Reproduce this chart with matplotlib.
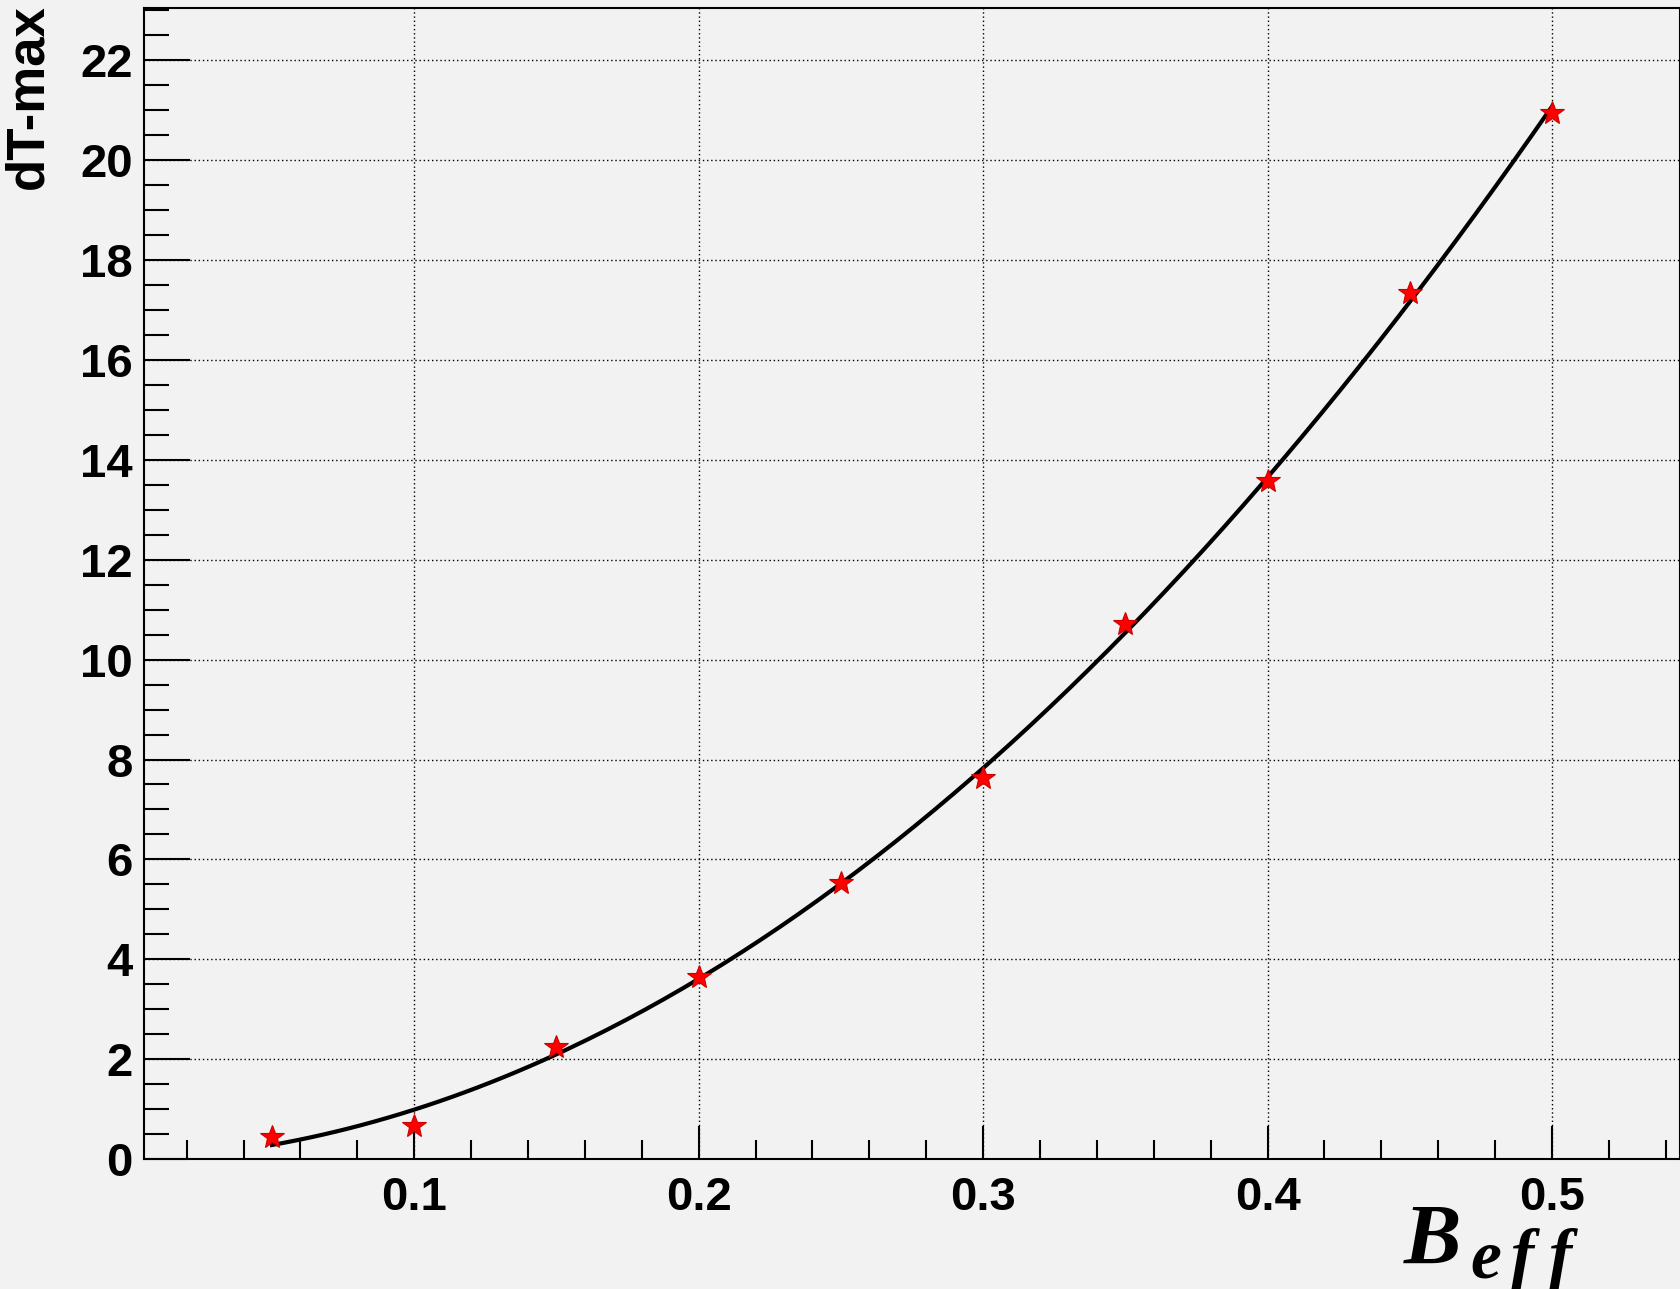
import numpy as np
import matplotlib
matplotlib.use("Agg")
import matplotlib.pyplot as plt
from matplotlib.ticker import MultipleLocator

# データ
b_eff = [0.05, 0.10, 0.15, 0.20, 0.25, 0.30, 0.35, 0.40, 0.45, 0.50]
dt_max = [0.45, 0.66, 2.25, 3.64, 5.53, 7.63, 10.71, 13.58, 17.35, 20.95]

bg = "#f2f2f2"
plt.rcParams["font.family"] = ["Liberation Sans", "DejaVu Sans"]
plt.rcParams["font.weight"] = "bold"

fig = plt.figure(figsize=(16.81, 12.89), dpi=100, facecolor=bg)
ax = fig.add_axes([144 / 1681, 1 - 1159 / 1289, 1536 / 1681, 1151 / 1289])
ax.set_facecolor(bg)

# 2次関数でフィット
coef = np.polyfit(b_eff, dt_max, 2)
xs = np.linspace(b_eff[0], b_eff[-1], 200)
ax.plot(xs, np.polyval(coef, xs), color="black", lw=3, zorder=3)

ax.plot(b_eff, dt_max, linestyle="none", marker="*", ms=18,
        color="red", mec="#cc0000", mew=0.8, zorder=4)

ax.set_xlim(0.005, 0.545)
ax.set_ylim(0, 23.05)
ax.xaxis.set_major_locator(MultipleLocator(0.1))
ax.xaxis.set_minor_locator(MultipleLocator(0.02))
ax.yaxis.set_major_locator(MultipleLocator(2))
ax.yaxis.set_minor_locator(MultipleLocator(0.5))
ax.set_xticks([0.1, 0.2, 0.3, 0.4, 0.5])
ax.set_xticklabels(["0.1", "0.2", "0.3", "0.4", "0.5"])

ax.grid(True, which="major", color="black", linestyle=(0, (1, 2)), lw=1)
ax.tick_params(axis="both", which="both", direction="in", width=1.5,
               labelsize=34, top=False, right=False)
ax.tick_params(axis="x", which="major", length=24, pad=12)
ax.tick_params(axis="x", which="minor", length=14)
ax.tick_params(axis="y", which="major", length=33, pad=8)
ax.tick_params(axis="y", which="minor", length=18)
for lab in ax.get_xticklabels() + ax.get_yticklabels():
    lab.set_fontweight("bold")
for s in ax.spines.values():
    s.set_linewidth(1.5)

fig.text(28 / 1681, 1 - 4 / 1289, "dT-max", rotation=90, ha="center",
         va="top", fontsize=38, fontweight="bold")

# x軸ラベル B_eff (添字は字間が広いので一文字ずつ置く)
serif = dict(family="Liberation Serif", weight="bold", style="italic",
             ha="left", va="baseline")
fig.text(1404 / 1681, 1 - 1264 / 1289, "B", fontsize=62, **serif)
for ch, px in zip("eff", [1470, 1511, 1549]):
    fig.text(px / 1681, 1 - 1277 / 1289, ch, fontsize=50, **serif)

fig.savefig("out.png", dpi=100, facecolor=bg)
